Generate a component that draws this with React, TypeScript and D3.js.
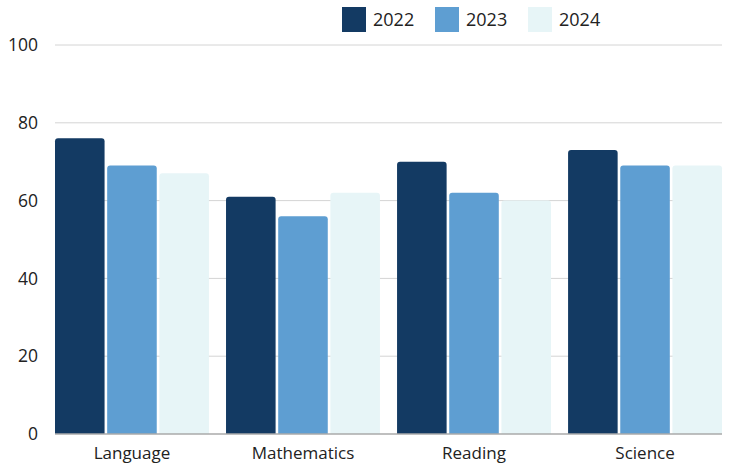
import React from "react";
import * as d3 from "d3";

const subjects = ["Language", "Mathematics", "Reading", "Science"];
const years = ["2022", "2023", "2024"];
const scores2022 = [76, 61, 70, 73];
const scores2023 = [69, 56, 62, 69];
const scores2024 = [67, 62, 60, 69];
const yTicks = [0, 20, 40, 60, 80, 100];

const colors = ["#133a63", "#5e9ed2", "#e7f5f7"];
const seriesValues = [scores2022, scores2023, scores2024];

const W = 731;
const H = 464;
const margin = { top: 45, right: 9, bottom: 30, left: 55 };
const fontFamily = "'Open Sans', 'Noto Sans', sans-serif";

// rounded top corners only
function barPath(x: number, y: number, w: number, h: number, r: number) {
  const rr = Math.min(r, h, w / 2);
  return `M${x},${y + h}V${y + rr}Q${x},${y} ${x + rr},${y}H${x + w - rr}Q${x + w},${y} ${x + w},${y + rr}V${y + h}Z`;
}

const App = () => {
  const x0 = d3
    .scaleBand()
    .domain(subjects)
    .range([margin.left, W - margin.right])
    .paddingInner(0.1)
    .paddingOuter(0);

  const x1 = d3
    .scaleBand()
    .domain(years)
    .range([0, x0.bandwidth()])
    .paddingInner(0.05);

  const y = d3
    .scaleLinear()
    .domain([0, 100])
    .range([H - margin.bottom, margin.top]);

  const legendX = [342, 435, 528];

  return (
    <svg width={W} height={H} style={{ position: "absolute", left: 0, top: 0 }}>
      <rect width={W} height={H} fill="#fff" />
      {yTicks.map((t) => (
        <g key={t}>
          {t > 0 && (
            <line
              x1={margin.left}
              x2={W - margin.right}
              y1={y(t)}
              y2={y(t)}
              stroke="#d4d4d4"
              strokeWidth={1}
            />
          )}
          <text
            x={38}
            y={y(t)}
            dy="0.35em"
            textAnchor="end"
            fontSize={17.5}
            fontFamily={fontFamily}
            fill="#222"
          >
            {t}
          </text>
        </g>
      ))}
      {subjects.map((s, i) => (
        <g key={s} transform={`translate(${x0(s)},0)`}>
          {years.map((yr, j) => {
            const v = seriesValues[j][i];
            const bx = x1(yr) as number;
            const by = y(v);
            return (
              <path
                key={yr}
                d={barPath(bx, by, x1.bandwidth(), y(0) - by, 3)}
                fill={colors[j]}
              />
            );
          })}
          <text
            x={x0.bandwidth() / 2}
            y={H - 5}
            textAnchor="middle"
            fontSize={17}
            fontFamily={fontFamily}
            fill="#222"
          >
            {s}
          </text>
        </g>
      ))}
      <line
        x1={margin.left}
        x2={W - margin.right}
        y1={y(0)}
        y2={y(0)}
        stroke="#aaa"
        strokeWidth={1.5}
      />
      {years.map((yr, j) => (
        <g key={yr} transform={`translate(${legendX[j]},7)`}>
          <rect width={24} height={25} fill={colors[j]} />
          <text
            x={31}
            y={12.5}
            dy="0.35em"
            fontSize={18}
            fontFamily={fontFamily}
            fill="#222"
          >
            {yr}
          </text>
        </g>
      ))}
    </svg>
  );
};

export default App;
